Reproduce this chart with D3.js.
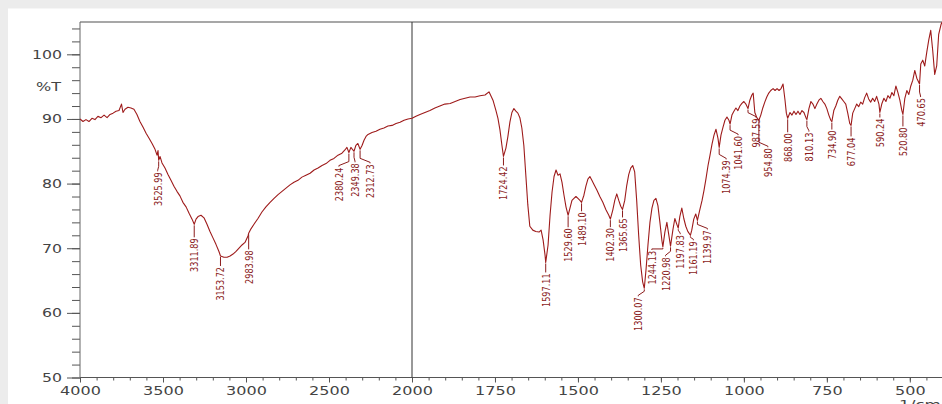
<!DOCTYPE html>
<html>
<head>
<meta charset="utf-8">
<script src="https://cdn.jsdelivr.net/npm/d3@7"></script>
<style>
  html, body { margin: 0; padding: 0; background: #ececec; }
  svg { display: block; }
</style>
</head>
<body>
<svg id="chart" width="942" height="404"></svg>
<script>
// IR transmittance spectrum: wavenumber (1/cm) and %T
const wavenumbers = [
  4000, 3982, 3964, 3946, 3928, 3910, 3892, 3873, 3855, 3837, 3819, 3801, 3783, 3765, 3750, 3741,
  3729, 3711, 3693, 3675, 3657, 3639, 3620, 3602, 3584, 3566, 3548, 3536, 3530, 3525.99, 3518, 3506,
  3488, 3470, 3452, 3434, 3416, 3398, 3380, 3361, 3343, 3325, 3311.89, 3301, 3289, 3271, 3253, 3235,
  3217, 3199, 3181, 3163, 3153.72, 3133, 3114, 3096, 3078, 3060, 3042, 3024, 3006, 2988, 2983.98, 2970,
  2952, 2928, 2904, 2880, 2855, 2831, 2807, 2783, 2759, 2735, 2711, 2687, 2663, 2639, 2614, 2590,
  2566, 2542, 2518, 2494, 2470, 2446, 2422, 2404, 2392, 2380.24, 2368, 2356, 2349.38, 2338, 2326, 2312.73,
  2301, 2289, 2277, 2265, 2241, 2217, 2193, 2169, 2145, 2120, 2096, 2072, 2048, 2024, 2000,
  1988, 1976, 1961, 1946, 1931, 1916, 1901, 1885, 1870, 1855, 1840, 1825, 1810, 1795, 1780, 1768,
  1756, 1747, 1741, 1735, 1729, 1724.42, 1717, 1711, 1705, 1699, 1693, 1687, 1681, 1675, 1669, 1663,
  1657, 1651, 1645, 1636, 1627, 1617, 1611, 1605, 1599, 1597.11, 1590, 1584, 1578, 1572, 1566, 1560,
  1554, 1548, 1542, 1536, 1529.60, 1524, 1518, 1512, 1506, 1500, 1494, 1489.10, 1482, 1476, 1470, 1464,
  1458, 1452, 1443, 1434, 1425, 1416, 1407, 1402.30, 1395, 1389, 1383, 1377, 1371, 1365.65, 1359, 1353,
  1347, 1341, 1335, 1329, 1323, 1317, 1311, 1305, 1300.07, 1295, 1289, 1283, 1277, 1271, 1265, 1259,
  1253, 1247, 1244.13, 1238, 1232, 1226, 1220.98, 1214, 1208, 1202, 1197.83, 1193, 1187, 1181, 1175, 1169,
  1161.19, 1157, 1151, 1145, 1139.97, 1133, 1126, 1120, 1114, 1108, 1102, 1096, 1090, 1084, 1078, 1074.39,
  1069, 1063, 1057, 1051, 1045, 1041.60, 1036, 1030, 1024, 1018, 1012, 1006, 1000, 994, 987.59, 982,
  976, 972, 967, 961, 954.80, 949, 943, 937, 931, 925, 919, 912, 906, 900, 894, 888,
  882, 876, 872, 868.00, 861, 855, 849, 843, 837, 831, 825, 819, 813, 810.13, 804, 798,
  792, 786, 780, 774, 768, 762, 756, 750, 744, 738, 734.90, 729, 723, 717, 711, 705,
  699, 693, 687, 681, 677.04, 672, 666, 660, 654, 648, 642, 636, 630, 624, 618, 612,
  606, 600, 593, 590.24, 584, 578, 572, 566, 560, 554, 548, 542, 536, 530, 524, 520.80,
  515, 509, 503, 497, 491, 485, 479, 470.65, 467, 461, 455, 449, 443, 437, 431, 425,
  419, 413, 406, 400
];
const transmittance = [
  90.0, 89.6, 89.9, 89.6, 90.1, 89.9, 90.4, 90.2, 90.6, 90.2, 90.7, 90.9, 91.2, 91.3, 92.3, 91.0,
  91.5, 91.8, 91.7, 91.5, 90.7, 89.6, 88.7, 87.8, 87.0, 86.2, 85.3, 84.4, 85.1, 83.6, 84.2, 83.2,
  82.4, 81.4, 80.5, 79.6, 78.8, 78.1, 77.1, 76.4, 75.4, 74.5, 73.7, 74.5, 74.9, 75.1, 74.7, 73.7,
  72.6, 71.6, 70.6, 69.5, 68.8, 68.6, 68.6, 68.8, 69.1, 69.5, 70.0, 70.5, 70.9, 71.9, 72.3, 73.0,
  73.7, 74.6, 75.6, 76.4, 77.1, 77.7, 78.3, 78.8, 79.3, 79.8, 80.2, 80.5, 81.0, 81.3, 81.6, 82.1,
  82.4, 82.8, 83.1, 83.6, 83.9, 84.4, 84.7, 85.2, 85.6, 84.8, 85.6, 85.2, 85.0, 85.9, 86.2, 85.3,
  85.9, 86.7, 87.3, 87.6, 87.9, 88.1, 88.4, 88.6, 88.9, 89.0, 89.3, 89.5, 89.8, 90.0, 90.1,
  90.4, 90.7, 91.0, 91.3, 91.7, 92.0, 92.3, 92.4, 92.7, 93.0, 93.2, 93.4, 93.4, 93.6, 93.7, 94.2,
  92.9, 91.3, 90.1, 88.3, 85.9, 84.2, 85.5, 87.3, 89.5, 91.0, 91.6, 91.2, 90.9, 90.2, 88.6, 85.9,
  81.3, 76.7, 73.4, 72.8, 72.6, 72.5, 72.8, 71.3, 68.9, 67.8, 70.5, 75.1, 78.7, 81.1, 82.1, 81.3,
  81.5, 80.2, 78.2, 76.4, 75.1, 76.2, 77.4, 77.7, 78.0, 77.7, 77.4, 77.1, 78.2, 79.6, 80.7, 81.1,
  80.5, 79.9, 79.0, 78.0, 77.1, 76.0, 75.1, 74.5, 75.9, 77.4, 78.4, 77.4, 76.5, 76.0, 77.4, 79.7,
  81.4, 82.4, 82.8, 81.8, 77.4, 72.0, 67.4, 64.8, 63.8, 66.6, 70.5, 74.0, 76.2, 77.4, 77.7, 76.6,
  74.0, 71.2, 70.2, 72.5, 74.0, 72.0, 70.3, 72.8, 74.6, 73.7, 73.1, 74.9, 76.2, 74.6, 73.4, 72.6,
  72.0, 72.8, 74.5, 75.3, 74.3, 75.9, 77.4, 79.0, 80.8, 82.8, 84.4, 86.1, 87.5, 88.4, 87.0, 85.6,
  87.5, 88.7, 89.8, 90.3, 89.8, 89.2, 90.6, 91.2, 91.7, 91.3, 92.0, 92.4, 92.7, 92.3, 91.6, 92.9,
  93.7, 94.0, 91.0, 90.2, 89.8, 90.6, 91.7, 92.6, 93.4, 94.0, 94.4, 94.7, 94.4, 94.7, 94.4, 94.7,
  95.4, 92.9, 90.9, 90.1, 91.0, 90.6, 91.2, 90.7, 91.2, 90.7, 91.3, 91.0, 90.2, 89.9, 91.6, 92.7,
  92.3, 91.6, 92.3, 92.9, 93.2, 92.7, 92.3, 91.6, 90.6, 89.8, 89.6, 91.3, 92.0, 92.9, 93.5, 93.1,
  92.7, 92.3, 90.9, 89.3, 89.0, 90.9, 91.6, 92.3, 91.9, 92.6, 92.3, 93.3, 94.0, 93.1, 92.6, 93.2,
  92.7, 93.5, 92.3, 91.0, 92.4, 93.2, 92.7, 93.6, 93.2, 94.1, 93.6, 95.1, 94.1, 92.9, 91.3, 90.7,
  93.2, 94.4, 93.8, 95.1, 96.0, 97.5, 96.3, 95.4, 98.5, 99.1, 98.2, 100.3, 102.2, 103.7, 100.6, 96.9,
  98.2, 103.1, 104.6, 105.3
];

// Labelled absorption bands
const peakLabels = [
  "3525.99", "3311.89", "3153.72", "2983.98", "2380.24", "2349.38", "2312.73", "1724.42",
  "1597.11", "1529.60", "1489.10", "1402.30", "1365.65", "1300.07", "1244.13", "1220.98",
  "1197.83", "1161.19", "1139.97", "1074.39", "1041.60", "987.59", "954.80", "868.00",
  "810.13", "734.90", "677.04", "590.24", "520.80", "470.65"
];
// Leader geometry per label: [horizontal shift of text, distance from trace to text top] in px
const labelLayout = [
  [-1, 12], [0, 14], [0, 11], [0, 17], [-10, 15], [1, 12], [10, 15], [0, 10],
  [0, 11], [0, 13], [0, 10], [0, 9], [0, 9], [-6, 9], [-11, 4], [-5, 11],
  [2, 7], [3, 6], [10, 10], [7, 13], [8, 12], [8, 10], [9, 28], [0, 15],
  [2, 13], [0, 9], [0, 12], [0, 6], [0, 13], [1, 14]
];

// Axis ticks
const xMajorTicks = [4000, 3500, 3000, 2500, 2000, 1750, 1500, 1250, 1000, 750, 500];
const yMajorTicks = [50, 60, 70, 80, 90, 100];

const svg = d3.select("#chart");

// page panel
svg.append("rect").attr("x", 0).attr("y", 0).attr("width", 942).attr("height", 404).attr("fill", "#ececec");
svg.append("rect").attr("x", 8).attr("y", 8).attr("width", 934).attr("height", 396).attr("fill", "#ffffff");
svg.append("line").attr("x1", 8).attr("x2", 942).attr("y1", 8.5).attr("y2", 8.5).attr("stroke", "#f6f6f6");

const plotLeft = 80, plotTop = 22, plotBottom = 377.5, plotRight = 943;

// split wavenumber axis: 4000-2000 compressed, 2000-400 expanded
const x = d3.scaleLinear().domain([4000, 2000, 400]).range([plotLeft, 412, plotRight]);
const y = d3.scaleLinear().domain([50, 105]).range([plotBottom, plotTop]);

const axisFont = "'DejaVu Sans', Verdana, sans-serif";
const axisColor = "#444";

// frame: top border
svg.append("line").attr("x1", plotLeft).attr("x2", 942).attr("y1", plotTop).attr("y2", plotTop)
  .attr("stroke", "#8a8a8a").attr("stroke-width", 1.3);

// x axis minor ticks
const xMinor = d3.range(4000, 2000, -100).concat(d3.range(2000, 399, -50));
svg.append("g").attr("transform", `translate(0,${plotBottom})`)
  .call(d3.axisBottom(x).tickValues(xMinor).tickSize(3).tickFormat(""))
  .call(g => g.select(".domain").remove())
  .call(g => g.selectAll("line").attr("stroke", "#555"));

// x axis major ticks and labels
const gx = svg.append("g").attr("transform", `translate(0,${plotBottom})`)
  .call(d3.axisBottom(x).tickValues(xMajorTicks).tickSize(5).tickPadding(3).tickFormat(d3.format("d")));
gx.select(".domain").attr("d", `M${plotLeft},0H942`).attr("stroke", "#555");
gx.selectAll("line").attr("stroke", "#555");
gx.selectAll("text")
  .attr("font-family", axisFont).attr("font-size", 12.5).attr("fill", axisColor)
  .attr("dy", null).attr("y", 17)
  .attr("textLength", d => String(d).length * 10.2).attr("lengthAdjust", "spacingAndGlyphs");

// y axis minor ticks
const yMinor = d3.range(50, 105, 2);
svg.append("g").attr("transform", `translate(${plotLeft},0)`)
  .call(d3.axisLeft(y).tickValues(yMinor).tickSize(8).tickFormat(""))
  .call(g => g.select(".domain").remove())
  .call(g => g.selectAll("line").attr("stroke", "#555"));

// y axis major ticks and labels
const gy = svg.append("g").attr("transform", `translate(${plotLeft},0)`)
  .call(d3.axisLeft(y).tickValues(yMajorTicks).tickSize(13).tickPadding(5).tickFormat(d3.format("d")));
gy.select(".domain").attr("d", `M0,${plotTop}V${plotBottom}`).attr("stroke", "#666");
gy.selectAll("line").attr("stroke", "#555");
gy.selectAll("text")
  .attr("font-family", axisFont).attr("font-size", 12.5).attr("fill", axisColor)
  .attr("textLength", d => String(d).length * 10).attr("lengthAdjust", "spacingAndGlyphs");

// axis titles
svg.append("text").attr("x", 61).attr("y", y(95)).attr("dy", "0.36em").attr("text-anchor", "end")
  .attr("font-family", axisFont).attr("font-size", 12.5).attr("fill", axisColor)
  .attr("textLength", 25).attr("lengthAdjust", "spacingAndGlyphs").text("%T");
svg.append("text").attr("x", 899).attr("y", 409)
  .attr("font-family", axisFont).attr("font-size", 12.5).attr("fill", axisColor)
  .attr("textLength", 42).attr("lengthAdjust", "spacingAndGlyphs").text("1/cm");

// divider at the scale change
svg.append("line").attr("x1", x(2000)).attr("x2", x(2000)).attr("y1", plotTop).attr("y2", plotBottom)
  .attr("stroke", "#333").attr("stroke-width", 1);

// spectrum trace
svg.append("clipPath").attr("id", "plotClip")
  .append("rect").attr("x", plotLeft).attr("y", plotTop).attr("width", plotRight - plotLeft).attr("height", plotBottom - plotTop);

const points = wavenumbers.map((w, i) => [w, transmittance[i]]);
const traceColor = "#9e1b1b";
svg.append("path")
  .attr("clip-path", "url(#plotClip)")
  .attr("d", d3.line().x(d => x(d[0])).y(d => y(d[1]))(points))
  .attr("fill", "none").attr("stroke", traceColor).attr("stroke-width", 1.1)
  .attr("stroke-linejoin", "round");

// peak annotations
const labelColor = "#8b1c1c";
const gLabels = svg.append("g");
peakLabels.forEach((lab, i) => {
  const w = +lab;
  const idx = wavenumbers.findIndex(v => Math.abs(v - w) < 1e-6);
  const px = x(w), py = y(transmittance[idx]);
  const [dx, gap] = labelLayout[i];
  const tx = px + dx, ty = py + gap;
  let pts;
  if (dx === 0) {
    pts = [[px, py + 1], [px, ty - 1]];
  } else {
    const bend = py + Math.max(2, gap - 6);
    pts = [[px, py + 1], [px, bend], [tx, ty - 2], [tx, ty - 1]];
  }
  gLabels.append("path").attr("d", d3.line()(pts))
    .attr("fill", "none").attr("stroke", labelColor).attr("stroke-width", 1);
  gLabels.append("text")
    .attr("transform", `translate(${tx},${ty}) rotate(-90)`)
    .attr("text-anchor", "end").attr("dominant-baseline", "central")
    .attr("font-family", "'Liberation Sans Narrow', 'DejaVu Sans Condensed', 'Liberation Sans', Arial, sans-serif")
    .attr("font-size", 10.5).attr("fill", labelColor)
    .attr("textLength", lab.length * 4.8).attr("lengthAdjust", "spacingAndGlyphs")
    .text(lab);
});
</script>
</body>
</html>
